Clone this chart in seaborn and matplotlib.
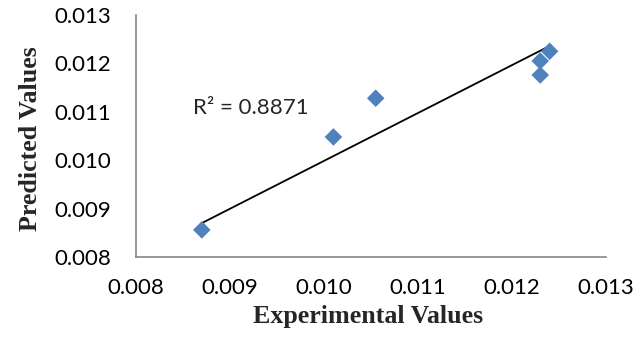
import numpy as np
import pandas as pd
import matplotlib
matplotlib.use("Agg")
import matplotlib.pyplot as plt
import seaborn as sns

experimental = [0.0087, 0.0101, 0.01055, 0.0123, 0.0123, 0.0124]
predicted = [0.00856, 0.01048, 0.01128, 0.01176, 0.01205, 0.01225]
trend_x = [0.0087, 0.0124]
trend_y = [0.00870, 0.01236]
x_ticks = [0.008, 0.009, 0.010, 0.011, 0.012, 0.013]
y_ticks = [0.008, 0.009, 0.010, 0.011, 0.012, 0.013]
r2_label = "R² = 0.8871"

df = pd.DataFrame({"Experimental Values": experimental, "Predicted Values": predicted})
trend = pd.DataFrame({"x": trend_x, "y": trend_y})

sns.set_style("white")
plt.rcParams['font.family'] = ['Lato', 'DejaVu Sans']

fig = plt.figure(figsize=(6.4, 3.39), dpi=100)
ax = fig.add_axes([0.2125, 0.2419, 0.7344, 0.7139])

sns.lineplot(data=trend, x="x", y="y", ax=ax, color="black", lw=1.3, zorder=2)
sns.scatterplot(data=df, x="Experimental Values", y="Predicted Values", ax=ax,
                marker="D", s=80, color="#4F81BD", edgecolor="none", zorder=3)

ax.set_xlim(x_ticks[0], x_ticks[-1])
ax.set_ylim(y_ticks[0], y_ticks[-1])
ax.set_xticks(x_ticks)
ax.set_yticks(y_ticks)
ax.set_xticklabels([f"{v:.3f}" for v in x_ticks], fontsize=16)
ax.set_yticklabels([f"{v:.3f}" for v in y_ticks], fontsize=16)

for s in ["top", "right"]:
    ax.spines[s].set_visible(False)
for s in ["left", "bottom"]:
    ax.spines[s].set_color("#868686")
    ax.spines[s].set_linewidth(1.2)
ax.tick_params(axis="both", direction="out", length=6, width=1.2, color="#868686",
               labelcolor="black")
ax.tick_params(axis="y", pad=12)
ax.tick_params(axis="x", pad=9)

ax.set_xlabel("Experimental Values", fontsize=18.7, fontweight="bold",
              family=["Liberation Serif"], va="center")
ax.set_ylabel("Predicted Values", fontsize=18.7, fontweight="bold",
              family=["Liberation Serif"], va="center")
ax.xaxis.set_label_coords(0.494, -0.244)
ax.yaxis.set_label_coords(-0.2255, 0.49)

ax.text(0.245, 0.616, r2_label, transform=ax.transAxes, ha="center", va="center",
        fontsize=16)

fig.savefig("out.png", dpi=100)
